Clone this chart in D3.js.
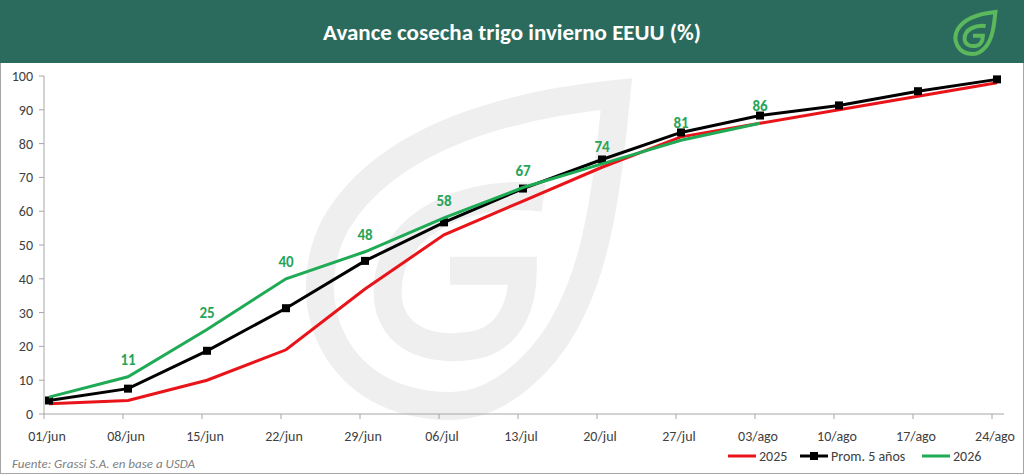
<!DOCTYPE html>
<html><head><meta charset="utf-8">
<script src="https://cdn.jsdelivr.net/npm/d3@7"></script>
<style>body{margin:0;background:#fff}svg{display:block;font-family:Calibri,Carlito,"Open Sans",sans-serif}</style>
</head><body><svg id="c" width="1024" height="474"></svg>
<script>
const categories=["01/jun","08/jun","15/jun","22/jun","29/jun","06/jul","13/jul","20/jul","27/jul","03/ago","10/ago","17/ago","24/ago"];
const s2025=[3,4,10,19,37,53,63,73,82,86,90,94,98];
const sProm=[4,7.5,18.7,31.3,45.3,56.7,66.7,75.3,83.3,88.3,91.3,95.5,99];
const s2026=[5,11,25,40,48,58,67,74,81,86];
const yTicks=[0,10,20,30,40,50,60,70,80,90,100];

const svg=d3.select("#c");
svg.append("rect").attr("x",0.5).attr("y",0.5).attr("width",1023).attr("height",473).attr("fill","#fff").attr("stroke","#a6a6a6");
svg.append("rect").attr("x",0).attr("y",0).attr("width",1024).attr("height",63).attr("fill","#2b6b5d");
svg.append("text").attr("x",512).attr("y",40).attr("text-anchor","middle").attr("fill","#fff").attr("font-size",23).attr("font-weight","bold").text("Avance cosecha trigo invierno EEUU (%)");
function leaf(g,s,col,w){
  g.append("path").attr("d","M0,30 C-22,30 -30,10 -22,-5 C-12,-22 12,-28 32,-30 C30,-10 28,8 18,20 C12,27 6,30 0,30 Z").attr("transform",`scale(${s})`).attr("fill","none").attr("stroke",col).attr("stroke-width",w/s);
  g.append("path").attr("d","M18,-10 C5,-12 -12,-6 -12,8 C-12,18 -2,20 6,18 C12,16 14,10 14,4 L0,4").attr("transform",`scale(${s})`).attr("fill","none").attr("stroke",col).attr("stroke-width",w/s);
}
leaf(svg.append("g").attr("transform","translate(973,33)"),0.7,"#5cb85c",4);
leaf(svg.append("g").attr("transform","translate(450,250)"),5.2,"#efefef",28);

const x=d3.scaleLinear().domain([0,12]).range([49,997]);
const y=d3.scaleLinear().domain([0,100]).range([414,76]);
const g=svg.append("g");
g.append("line").attr("x1",44).attr("x2",1004).attr("y1",y(0)).attr("y2",y(0)).attr("stroke","#a6a6a6");
g.append("line").attr("x1",44).attr("x2",44).attr("y1",y(0)).attr("y2",y(100)).attr("stroke","#a6a6a6");
yTicks.forEach(t=>{
  g.append("line").attr("x1",39).attr("x2",44).attr("y1",y(t)).attr("y2",y(t)).attr("stroke","#a6a6a6");
  g.append("text").attr("x",33).attr("y",y(t)+5).attr("text-anchor","end").attr("font-size",14).attr("fill","#404040").text(t);
});
categories.forEach((c,i)=>{
  g.append("line").attr("x1",x(i)-5).attr("x2",x(i)-5).attr("y1",y(0)).attr("y2",y(0)+5).attr("stroke","#a6a6a6");
  g.append("text").attr("x",x(i)-2).attr("y",441).attr("text-anchor","middle").attr("font-size",14).attr("fill","#404040").text(c);
});
const line=d3.line().x((d,i)=>x(i)).y(d=>y(d));
g.append("path").datum(s2025).attr("d",line).attr("fill","none").attr("stroke","#e8141a").attr("stroke-width",3);
g.append("path").datum(sProm).attr("d",line).attr("fill","none").attr("stroke","#000").attr("stroke-width",3);
g.selectAll(".m").data(sProm).join("rect").attr("x",(d,i)=>x(i)-4).attr("y",d=>y(d)-4).attr("width",8).attr("height",8).attr("fill","#000");
g.append("path").datum(s2026).attr("d",line).attr("fill","none").attr("stroke","#1faa55").attr("stroke-width",3);
g.selectAll(".l").data(s2026.slice(1)).join("text").attr("x",(d,i)=>x(i+1)).attr("y",d=>y(d)-12).attr("text-anchor","middle").attr("font-size",15).attr("font-weight","bold").attr("fill","#27a458").text(d=>d);
svg.append("text").attr("x",12).attr("y",468).attr("font-size",13).attr("font-style","italic").attr("fill","#7f7f7f").text("Fuente: Grassi S.A. en base a USDA");
const lg=svg.append("g").attr("font-size",14).attr("fill","#404040");
[[728,"#e8141a","2025",false],[800,"#000","Prom. 5 años",true],[922,"#1faa55","2026",false]].forEach(([lx,c,t,m])=>{
  lg.append("line").attr("x1",lx).attr("x2",lx+28).attr("y1",456).attr("y2",456).attr("stroke",c).attr("stroke-width",3);
  if(m) lg.append("rect").attr("x",lx+10).attr("y",452).attr("width",8).attr("height",8).attr("fill","#000");
  lg.append("text").attr("x",lx+31).attr("y",461).attr("fill","#404040").text(t);
});
</script></body></html>
